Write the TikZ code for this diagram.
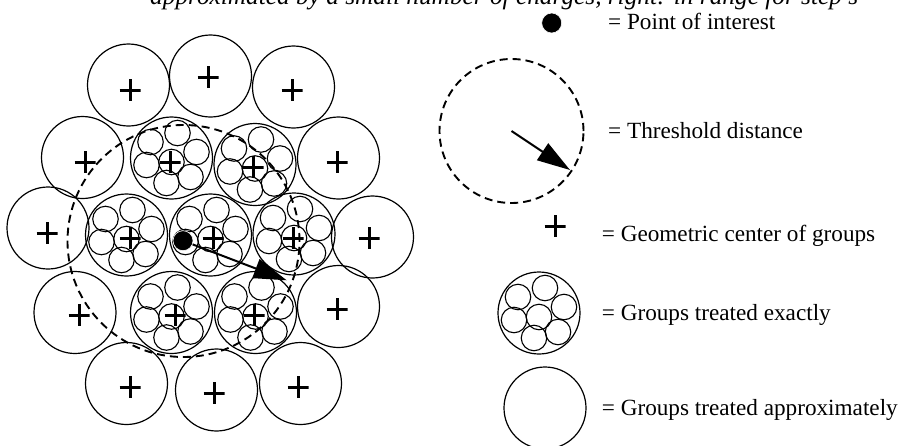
\documentclass[tikz,border=0pt]{standalone}
\usepackage{fontspec}
\setmainfont{Liberation Serif}
\usetikzlibrary{arrows.meta,calc}
\begin{document}
\begin{tikzpicture}[x=1pt,y=-1pt,
  font=\fontsize{23.2}{27}\selectfont,
  grp/.style={circle,draw,line width=1.2pt,inner sep=0pt,minimum size=82pt},
  sub/.style={circle,draw,line width=1.1pt,inner sep=0pt,minimum size=25.5pt},
  plusmark/.style={rectangle,inner sep=0pt,minimum width=21pt,minimum height=22pt,
    path picture={\draw[line width=3pt]
      (path picture bounding box.north) -- (path picture bounding box.south)
      (path picture bounding box.west) -- (path picture bounding box.east);}},
  thr/.style={circle,draw,line width=1.9pt,dash pattern=on 8pt off 5pt,inner sep=0pt},
  dot/.style={circle,fill=black,draw=white,line width=0.6pt,inner sep=0pt,minimum size=20pt},
  arr/.style={line width=2pt,-{Triangle[length=33pt,width=20pt]}},
  lbl/.style={anchor=base west,inner sep=0pt}
]
\useasboundingbox (0,0) rectangle (900,445);
\newcommand{\exactgroup}[3]{%
  \node[grp] (#1) at (#2,#3) {};
  \foreach \dx/\dy/\k in {0/4/c,6/-25/t,-21/-16/tl,-25/7/l,-5/25/b,19/19/br,25/-6/r}
    \node[sub] (#1\k) at ($(#2,#3)+(\dx,\dy)$) {};
}
% top caption (cut off by the frame)
\node[lbl,font=\fontsize{25.3}{29}\selectfont\itshape] (cap) at (150,4)
  {approximated by a small number of charges, right: in range for step s};
% approximate groups
\foreach \n/\x/\y/\px/\py in {
  1/128.5/85/130/90, 2/210.5/76/208/77, 3/293.5/87/292/90,
  4/82.5/157.5/85/162, 5/338.5/158/337/162,
  6/48/228/47/233, 7/372.5/237/369/238,
  8/75/312.5/79/315, 9/338.5/306.5/337/309,
  10/126.5/383.5/130/387, 11/216.5/390/214/393, 12/300.5/383.5/298/387}{
  \node[grp] (A\n) at (\x,\y) {};
  \node[plusmark] (PA\n) at (\px,\py) {};
}
% exactly treated groups
\exactgroup{E1}{171.5}{158}
\exactgroup{E2}{255}{164.5}
\exactgroup{E3}{126.5}{235}
\exactgroup{E4}{210.5}{235}
\exactgroup{E5}{294}{234}
\exactgroup{E6}{171.5}{312.5}
\exactgroup{E7}{255.5}{312.5}
\foreach \n/\px/\py in {1/170/162, 2/253/167, 3/130/238, 4/213/238,
  5/293/238, 6/175/315, 7/254/315}{
  \node[plusmark] (PE\n) at (\px,\py) {};
}
% threshold circle, point of interest and radius arrow
\node[thr,minimum size=232pt] (T) at (183.5,241) {};
\coordinate (poic) at (183,240.7);
\coordinate (Ttip) at ($(183.5,241)+(103.2,39.3)$);
\draw[arr] (poic) -- (Ttip);
\node[dot] (poi) at (poic) {};
% legend
\node[dot] (Ldot) at (551.7,23) {};
\node[lbl] (L1) at (608,29) {= Point of interest};
\node[thr,minimum size=144pt] (LT) at (511.5,131) {};
\coordinate (LTtip) at (570,170);
\draw[arr] (LT.center) -- (LTtip);
\node[lbl] (L2) at (608,138) {= Threshold distance};
\node[plusmark] (Lplus) at (555,226) {};
\node[lbl] (L3) at (601.7,241.7) {= Geometric center of groups};
\exactgroup{LE}{539}{313}
\node[lbl] (L4) at (601.7,320) {= Groups treated exactly};
\node[grp] (LA) at (545,408) {};
\node[lbl] (L5) at (601.7,415) {= Groups treated approximately};
\end{tikzpicture}
\end{document}
